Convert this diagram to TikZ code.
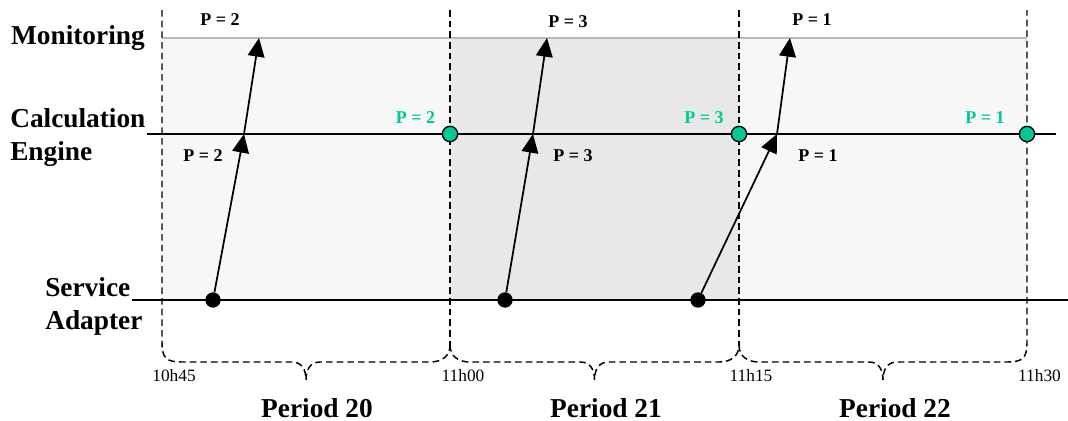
\documentclass[tikz,border=0pt]{standalone}
\usepackage{fontspec}
\setmainfont{Liberation Serif}
\usetikzlibrary{arrows.meta}
\definecolor{pgreen}{RGB}{0,200,150}
\definecolor{shadeA}{RGB}{247,247,247}
\definecolor{shadeB}{RGB}{232,232,232}
\definecolor{monline}{RGB}{185,185,185}
\begin{document}
\begin{tikzpicture}[x=0.75pt,y=-0.75pt,
 lane/.style={line width=1.4pt},
 dsh/.style={line width=1.1pt, dash pattern=on 5pt off 3pt},
 arr/.style={line width=1.3pt, -{Triangle[length=14pt,width=12.5pt]}},
 dot/.style={circle, fill=black, minimum size=11.5pt, inner sep=0pt},
 gdot/.style={circle, fill=pgreen, draw=black, line width=1pt, minimum size=11.5pt, inner sep=0pt},
 big/.style={font=\fontsize{20.5}{24.75}\selectfont\bfseries, inner sep=0pt},
 plab/.style={font=\fontsize{13.5}{15}\selectfont\bfseries, inner sep=0pt, anchor=base},
 tlab/.style={font=\fontsize{13}{15}\selectfont, inner sep=0pt, anchor=base},
]
\useasboundingbox (0,0) rectangle (1068,421);
% shaded periods
\fill[shadeA] (162,38) rectangle (450,300);
\fill[shadeB] (450,38) rectangle (739,300);
\fill[shadeA] (739,38) rectangle (1027,300);
% lanes
\draw[monline, line width=1.3pt] (162,38) -- (1027,38);
\draw[lane] (147,134) -- (1056,134);
\draw[lane] (132,300) -- (1068,300);
% dashed period borders and braces
\draw[dsh] (162,10) -- (162,342) .. controls (162,358) and (166,362) .. (182,362) -- (292,362)
  .. controls (302,362) and (306,370) .. (306,380) .. controls (306,370) and (310,362) .. (320,362)
  -- (430,362) .. controls (442,362) and (450,356) .. (450,345);
\draw[dsh] (450,10) -- (450,345);
\draw[dsh] (450,345) .. controls (450,356) and (458,362) .. (470,362) -- (580.5,362)
  .. controls (590.5,362) and (594.5,370) .. (594.5,380) .. controls (594.5,370) and (598.5,362) .. (608.5,362)
  -- (719,362) .. controls (731,362) and (739,356) .. (739,345);
\draw[dsh] (739,10) -- (739,345);
\draw[dsh] (739,345) .. controls (739,356) and (747,362) .. (759,362) -- (869,362)
  .. controls (879,362) and (883,370) .. (883,380) .. controls (883,370) and (887,362) .. (897,362)
  -- (1007,362) .. controls (1023,362) and (1027,358) .. (1027,342) -- (1027,10);
% lane labels
\node[big, anchor=base east] (mon) at (145,45) {Monitoring};
\node[big, align=left, anchor=west] (calc) at (10,138) {Calculation\\Engine};
\node[big, align=left, anchor=west] (serv) at (45,306) {Service\\Adapter};
% event dots and arrows
\node[dot] (s1) at (213,300) {};
\node[dot] (s2) at (505,300) {};
\node[dot] (s3) at (698,300) {};
\coordinate (c1) at (244,134);
\coordinate (c2) at (533,134);
\coordinate (c3) at (777,134);
\coordinate (m1) at (259,38);
\coordinate (m2) at (547,38);
\coordinate (m3) at (790,38);
\draw[arr] (s1) -- (c1);
\draw[arr] (c1) -- (m1);
\draw[arr] (s2) -- (c2);
\draw[arr] (c2) -- (m2);
\draw[arr] (s3) -- (c3);
\draw[arr] (c3) -- (m3);
% end-of-period markers
\node[gdot] (g1) at (450,134) {};
\node[gdot] (g2) at (739,134) {};
\node[gdot] (g3) at (1027,134) {};
% P labels
\node[plab] (pt1) at (220,26) {P = 2};
\node[plab] (pt2) at (568,27) {P = 3};
\node[plab] (pt3) at (812,26) {P = 1};
\node[plab] (pl1) at (203,161) {P = 2};
\node[plab] (pl2) at (573,161) {P = 3};
\node[plab] (pl3) at (818,161) {P = 1};
\node[plab, text=pgreen] (pg1) at (415.5,123) {P = 2};
\node[plab, text=pgreen] (pg2) at (704,123) {P = 3};
\node[plab, text=pgreen] (pg3) at (985,123) {P = 1};
% time labels
\node[tlab] (t1) at (174,381) {10h45};
\node[tlab] (t2) at (463,381) {11h00};
\node[tlab] (t3) at (751,381) {11h15};
\node[tlab] (t4) at (1039.5,381) {11h30};
% period labels
\node[big, anchor=base] (per20) at (317,417) {Period 20};
\node[big, anchor=base] (per21) at (606,417) {Period 21};
\node[big, anchor=base] (per22) at (895,417) {Period 22};
\end{tikzpicture}
\end{document}
